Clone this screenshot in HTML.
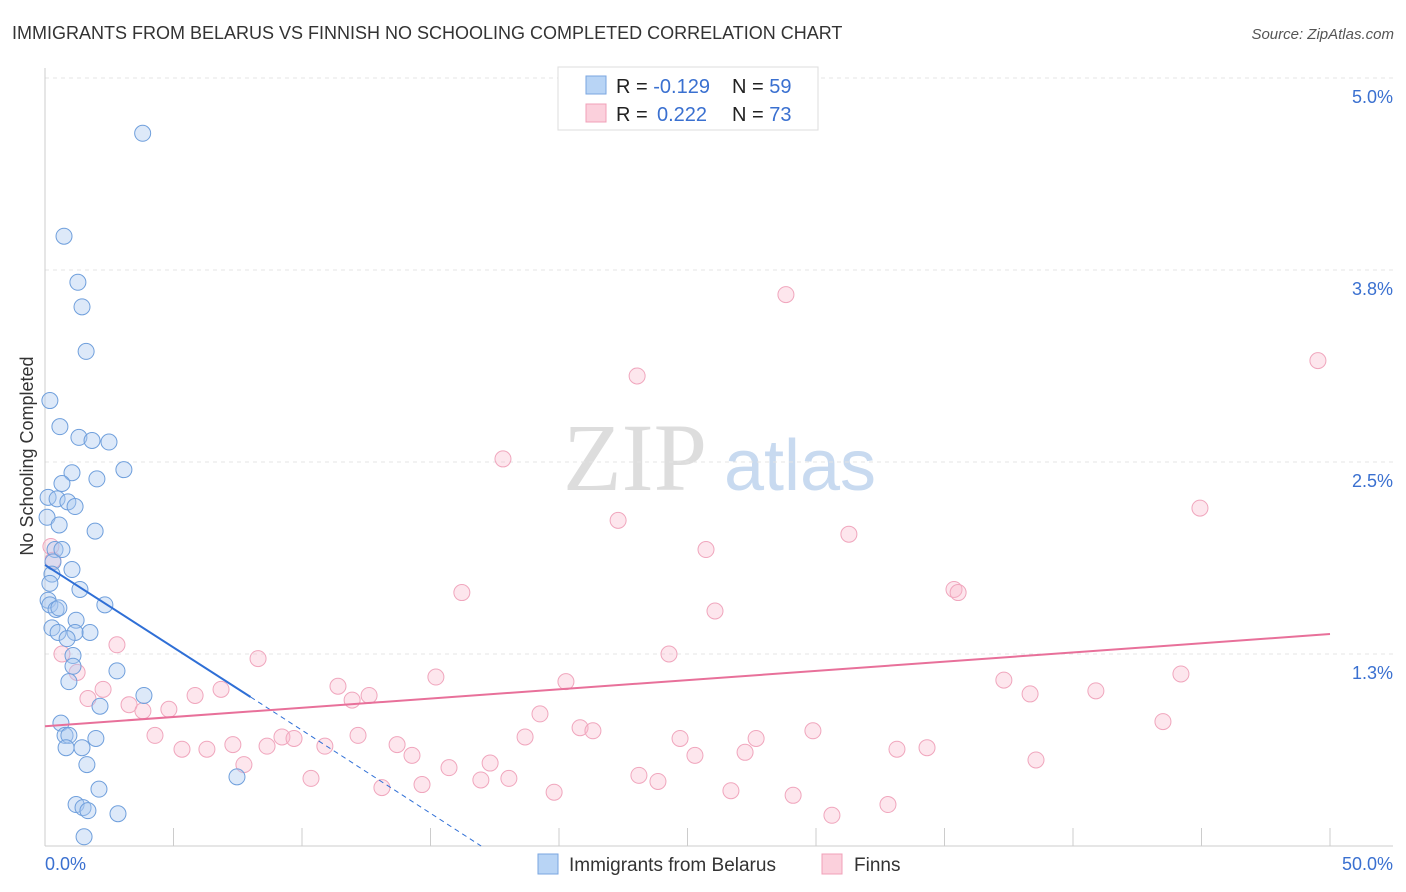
<!DOCTYPE html>
<html><head><meta charset="utf-8">
<style>
body{margin:0;background:#fff;font-family:"Liberation Sans",sans-serif;}
svg{display:block}
</style></head>
<body>
<svg width="1406" height="892">
<text x="12" y="39" font-size="18" fill="#333">IMMIGRANTS FROM BELARUS VS FINNISH NO SCHOOLING COMPLETED CORRELATION CHART</text>
<text x="1394" y="39" font-size="15" fill="#555" font-style="italic" text-anchor="end">Source: ZipAtlas.com</text>
<text x="33" y="456" font-size="18" fill="#333" text-anchor="middle" transform="rotate(-90 33 456)">No Schooling Completed</text>
<g>
<text x="635" y="490" font-size="96" fill="#ddd" font-family="Liberation Serif,serif" text-anchor="middle">ZIP</text>
<text x="800" y="490" font-size="72" fill="#c8daf0" text-anchor="middle">atlas</text>
</g>
<g id="grid"></g>
<g id="axes"></g>
<g id="pts"></g>
<g id="trend"></g>
<g>
<rect x="558" y="67" width="260" height="63" fill="#fff" stroke="#ddd"/>
<rect x="586" y="76" width="20" height="18" fill="#b8d4f5" stroke="#7aa6e0"/>
<rect x="586" y="104" width="20" height="18" fill="#fbd0dc" stroke="#f0a0b8"/>
<text x="616" y="93" font-size="20" fill="#222">R = <tspan fill="#3a70d0">-0.129</tspan><tspan x="732">N = </tspan><tspan fill="#3a70d0">59</tspan></text>
<text x="616" y="121" font-size="20" fill="#222">R = <tspan fill="#3a70d0" x="657">0.222</tspan><tspan x="732">N = </tspan><tspan fill="#3a70d0">73</tspan></text>
</g>
<g>
<rect x="538" y="854" width="20" height="20" fill="#b8d4f5" stroke="#7aa6e0"/>
<text x="569" y="871" font-size="19" fill="#333">Immigrants from Belarus</text>
<rect x="822" y="854" width="20" height="20" fill="#fbd0dc" stroke="#f0a0b8"/>
<text x="854" y="871" font-size="19" fill="#333">Finns</text>
</g>
</svg>
<script>
const yTicks=[5.0,3.75,2.5,1.25];
const yTickLabels=["5.0%","3.8%","2.5%","1.3%"];
const xTickVals=[0,5,10,15,20,25,30,35,40,45,50];
const blueX=[3.8,0.74,1.28,1.44,1.6,0.19,0.58,1.32,1.83,2.49,3.07,1.05,2.02,0.66,0.12,0.47,0.89,1.17,0.08,0.55,1.95,0.39,0.66,0.31,1.05,0.27,0.19,1.36,0.12,0.19,0.43,0.54,2.33,1.21,0.27,0.51,1.75,1.17,0.86,1.09,1.09,2.8,0.93,3.85,2.14,0.62,0.78,0.93,1.98,0.82,1.44,1.63,7.47,2.1,1.21,1.48,1.67,2.84,1.52];
const blueY=[4.64,3.97,3.67,3.51,3.22,2.9,2.73,2.66,2.64,2.63,2.45,2.43,2.39,2.36,2.27,2.26,2.24,2.21,2.14,2.09,2.05,1.93,1.93,1.85,1.8,1.77,1.71,1.67,1.6,1.57,1.54,1.55,1.57,1.47,1.42,1.39,1.39,1.39,1.35,1.24,1.17,1.14,1.07,0.98,0.91,0.8,0.72,0.72,0.7,0.64,0.64,0.53,0.45,0.37,0.27,0.25,0.23,0.21,0.06];
const pinkX=[28.83,49.53,23.04,17.82,44.94,22.3,31.28,25.72,0.23,0.31,16.22,35.37,35.53,26.07,2.8,0.66,8.29,24.28,1.25,15.21,37.31,44.2,6.85,11.4,20.27,2.26,5.84,40.89,38.33,12.61,11.95,1.67,3.27,3.81,4.82,19.26,43.5,4.28,12.18,9.22,9.69,18.68,20.82,21.32,29.88,24.71,27.67,5.33,6.3,7.31,8.64,10.89,13.7,14.28,25.29,27.24,33.15,34.32,38.56,7.74,15.72,17.32,10.35,16.96,18.05,23.11,23.85,13.11,14.67,19.81,26.69,29.11,32.8,30.62];
const pinkY=[3.59,3.16,3.06,2.52,2.2,2.12,2.03,1.93,1.95,1.86,1.65,1.67,1.65,1.53,1.31,1.25,1.22,1.25,1.13,1.1,1.08,1.12,1.02,1.04,1.07,1.02,0.98,1.01,0.99,0.98,0.95,0.96,0.92,0.88,0.89,0.86,0.81,0.72,0.72,0.71,0.7,0.71,0.77,0.75,0.75,0.7,0.7,0.63,0.63,0.66,0.65,0.65,0.66,0.59,0.59,0.61,0.63,0.64,0.56,0.53,0.51,0.54,0.44,0.43,0.44,0.46,0.42,0.38,0.4,0.35,0.36,0.33,0.27,0.2];
const blueTrend=[[0,1.83],[8.0,0.97],[16.97,0.0]];
const pinkTrend=[[0,0.78],[50,1.38]];
const NS="http://www.w3.org/2000/svg";
const X=v=>45+v*25.7, Y=v=>846-v*153.6;
function mk(t,a,p){const e=document.createElementNS(NS,t);for(const k in a)e.setAttribute(k,a[k]);document.getElementById(p).appendChild(e);return e;}
yTicks.forEach((v,i)=>{
 const g=mk('line',{x1:45,x2:1393,y1:Y(v),y2:Y(v),stroke:'#e4e4e4','stroke-dasharray':'4,4'},'grid');
 
 
 const t=mk('text',{x:1393,y:Y(v)+25,'font-size':18,fill:'#3a70d0','text-anchor':'end'},'axes');
 t.textContent=yTickLabels[i];
 
 
});
let a=mk('line',{x1:45,x2:45,y1:68,y2:846,stroke:'#ccc'},'axes');


a=mk('line',{x1:45,x2:1393,y1:846,y2:846,stroke:'#ccc'},'axes');


xTickVals.forEach(v=>{const l=mk('line',{x1:X(v),x2:X(v),y1:828,y2:846,stroke:'#ccc'},'axes');
 
 });
[[0,"0.0%","start",45],[50,"50.0%","end",1393]].forEach(d=>{const t=mk('text',{x:d[3],y:870,'font-size':18,fill:'#3a70d0','text-anchor':d[2]},'axes');t.textContent=d[1];
 
 });
pinkX.forEach((v,i)=>{const c=mk('circle',{cx:X(v),cy:Y(pinkY[i]),r:8,fill:'rgba(248,184,204,0.35)',stroke:'#f0a6bd','stroke-width':1},'pts');
 
 });
blueX.forEach((v,i)=>{const c=mk('circle',{cx:X(v),cy:Y(blueY[i]),r:8,fill:'rgba(170,200,240,0.4)',stroke:'#6f9fdc','stroke-width':1},'pts');
 
 });
let l=mk('line',{x1:X(blueTrend[0][0]),y1:Y(blueTrend[0][1]),x2:X(blueTrend[1][0]),y2:Y(blueTrend[1][1]),stroke:'#2f6fd6','stroke-width':2},'trend');


l=mk('line',{x1:X(blueTrend[1][0]),y1:Y(blueTrend[1][1]),x2:X(blueTrend[2][0]),y2:Y(blueTrend[2][1]),stroke:'#2f6fd6','stroke-width':1,'stroke-dasharray':'5,4'},'trend');


l=mk('line',{x1:X(pinkTrend[0][0]),y1:Y(pinkTrend[0][1]),x2:X(pinkTrend[1][0]),y2:Y(pinkTrend[1][1]),stroke:'#e8709a','stroke-width':2},'trend');


</script>
</body></html>
